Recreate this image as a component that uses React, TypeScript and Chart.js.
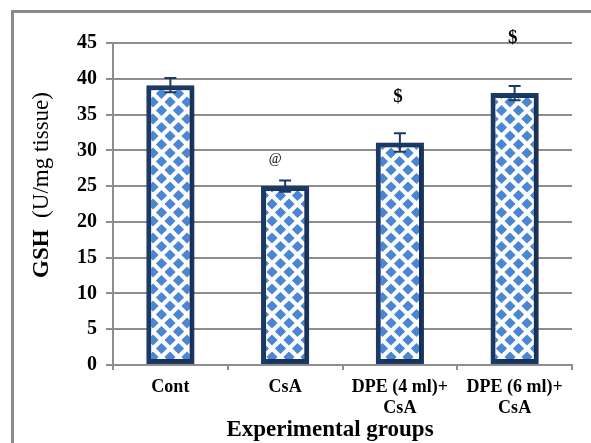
import { useEffect, useRef } from "react";
import { Chart, registerables } from "chart.js";

Chart.register(...registerables);

const categories: (string | string[])[] = ["Cont", "CsA", ["DPE (4 ml)+", "CsA"], ["DPE (6 ml)+", "CsA"]];
const gshValues = [39.1, 25.0, 31.1, 38.0];
const gshErrors = [1.0, 0.8, 1.3, 1.0];
const markTexts = ["", "@", "$", "$"];
const markLevels = [0, 28.8, 37.5, 45.7];
const yMin = 0;
const yMax = 45;
const yStep = 5;
const yTitleBold = "GSH";
const yTitleRest = "(U/mg tissue)";
const xTitle = "Experimental groups";

const SERIF = "'Liberation Serif', 'Times New Roman', serif";
const NAVY = "#1b3a66";
const GRID = "#8e8e8e";

function makePattern(ctx: CanvasRenderingContext2D): CanvasPattern | string {
  const s = 17;
  const c = document.createElement("canvas");
  c.width = s;
  c.height = s;
  const g = c.getContext("2d");
  if (!g) return "#4a86d3";
  g.fillStyle = "#ffffff";
  g.fillRect(0, 0, s, s);
  g.fillStyle = "#4a86d3";
  const r = 5.6;
  const d = (cx: number, cy: number) => {
    g.beginPath();
    g.moveTo(cx, cy - r);
    g.lineTo(cx + r, cy);
    g.lineTo(cx, cy + r);
    g.lineTo(cx - r, cy);
    g.closePath();
    g.fill();
  };
  d(s / 2, s / 2);
  d(0, 0);
  d(s, 0);
  d(0, s);
  d(s, s);
  return ctx.createPattern(c, "repeat") || "#4a86d3";
}

const framePlugin = {
  id: "frame",
  beforeDraw(chart: any) {
    const ctx = chart.ctx as CanvasRenderingContext2D;
    ctx.save();
    ctx.fillStyle = "#ffffff";
    ctx.fillRect(0, 0, chart.width, chart.height);
    ctx.fillStyle = "#8a8a8a";
    ctx.fillRect(11, 10, 3, chart.height - 10);
    ctx.fillRect(11, 10, chart.width - 11, 3);
    ctx.restore();
  },
};

const shadowPlugin = {
  id: "barShadow",
  beforeDatasetDraw(chart: any) {
    const ctx = chart.ctx as CanvasRenderingContext2D;
    ctx.save();
    ctx.shadowColor = "rgba(0,0,0,0.28)";
    ctx.shadowBlur = 5;
    ctx.shadowOffsetX = 2;
    ctx.shadowOffsetY = 1;
  },
  afterDatasetDraw(chart: any) {
    chart.ctx.restore();
  },
};

const overlayPlugin = {
  id: "overlay",
  afterDatasetsDraw(chart: any) {
    const ctx = chart.ctx as CanvasRenderingContext2D;
    const y = chart.scales.y;
    const meta = chart.getDatasetMeta(0);
    ctx.save();
    ctx.strokeStyle = NAVY;
    ctx.lineWidth = 2;
    meta.data.forEach((bar: any, i: number) => {
      const x = bar.x;
      const top = y.getPixelForValue(gshValues[i] + gshErrors[i]);
      const bot = y.getPixelForValue(gshValues[i] - gshErrors[i]);
      ctx.beginPath();
      ctx.moveTo(x, top);
      ctx.lineTo(x, bot);
      ctx.moveTo(x - 6, top);
      ctx.lineTo(x + 6, top);
      ctx.moveTo(x - 6, bot);
      ctx.lineTo(x + 6, bot);
      ctx.stroke();
      const t = markTexts[i];
      if (t) {
        ctx.fillStyle = "#000";
        ctx.textAlign = "center";
        ctx.textBaseline = "middle";
        ctx.font = t === "@" ? `14px ${SERIF}` : `bold 19px ${SERIF}`;
        const dx = t === "@" ? -10 : -2;
        ctx.fillText(t, x + dx, y.getPixelForValue(markLevels[i]));
      }
    });
    // axis titles
    ctx.fillStyle = "#000";
    ctx.textBaseline = "middle";
    ctx.textAlign = "center";
    ctx.font = `bold 23px ${SERIF}`;
    ctx.fillText(xTitle, 330, 430);

    ctx.translate(42, 185);
    ctx.rotate(-Math.PI / 2);
    ctx.textAlign = "left";
    ctx.font = `bold 23px ${SERIF}`;
    const wb = ctx.measureText(yTitleBold + "  ").width;
    ctx.font = `23px ${SERIF}`;
    const wr = ctx.measureText(yTitleRest).width;
    const start = -(wb + wr) / 2;
    ctx.font = `bold 23px ${SERIF}`;
    ctx.fillText(yTitleBold, start, 0);
    ctx.font = `23px ${SERIF}`;
    ctx.fillText(yTitleRest, start + wb, 0);
    ctx.restore();
  },
};

export default function App() {
  const ref = useRef<HTMLCanvasElement>(null);
  useEffect(() => {
    document.body.style.margin = "0";
    const canvas = ref.current;
    if (!canvas) return;
    const ctx = canvas.getContext("2d");
    if (!ctx) return;
    const pattern = makePattern(ctx);
    const chart = new Chart(canvas, {
      type: "bar",
      data: {
        labels: categories as any,
        datasets: [
          {
            data: gshValues,
            backgroundColor: pattern as any,
            borderColor: NAVY,
            borderWidth: 5,
            borderSkipped: false,
            categoryPercentage: 1,
            barPercentage: 0.42,
          },
        ],
      },
      options: {
        animation: false,
        responsive: false,
        maintainAspectRatio: false,
        layout: { padding: { top: 43, right: 19, left: 0, bottom: 0 } },
        plugins: { legend: { display: false }, tooltip: { enabled: false } },
        scales: {
          x: {
            grid: { display: true, drawOnChartArea: false, tickLength: 5, color: GRID, lineWidth: 2 },
            border: { color: GRID, width: 2 },
            ticks: {
              font: { family: SERIF, size: 18, weight: "bold", lineHeight: 1.15 },
              color: "#000",
              padding: 7,
              maxRotation: 0,
              autoSkip: false,
            },
            afterFit: (s: any) => {
              s.height = 443 - 365;
            },
          },
          y: {
            min: yMin,
            max: yMax,
            grid: { color: GRID, lineWidth: 2, tickLength: 7 },
            border: { color: GRID, width: 2 },
            ticks: {
              stepSize: yStep,
              font: { family: SERIF, size: 20, weight: "bold" },
              color: "#000",
              padding: 9,
            },
            afterFit: (s: any) => {
              s.width = 113;
            },
          },
        },
      },
      plugins: [framePlugin, shadowPlugin, overlayPlugin],
    });
    return () => chart.destroy();
  }, []);
  return <canvas ref={ref} width={591} height={443} style={{ display: "block" }} />;
}
